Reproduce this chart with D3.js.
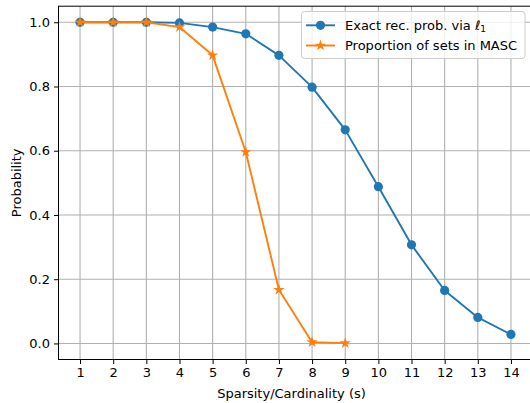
<!DOCTYPE html>
<html><head><meta charset="utf-8">
<script src="https://cdn.jsdelivr.net/npm/d3@7"></script>
<style>body{margin:0;background:#fff}svg{display:block}text{font-family:"DejaVu Sans",sans-serif;fill:#000}</style>
</head><body><svg id="c" width="530" height="403"></svg>
<script>
const sparsity = [1,2,3,4,5,6,7,8,9,10,11,12,13,14];
const exactProb = [1.0,1.0,1.0,0.998,0.985,0.964,0.897,0.798,0.665,0.488,0.307,0.165,0.081,0.028];
const masc = [1.0,1.0,1.0,0.985,0.897,0.596,0.167,0.004,0.001];
const yTicks = [0.0,0.2,0.4,0.6,0.8,1.0];
const xTicks = [1,2,3,4,5,6,7,8,9,10,11,12,13,14];
const seriesNames = ["Exact rec. prob. via ", "Proportion of sets in MASC"];
const colors = ["#1f77b4", "#ff7f0e"];

const svg = d3.select("#c");
const L = 58.5, R = 532.5, T = 6.2, B = 359.5;
const x = d3.scaleLinear().domain([0.35, 14.65]).range([L, R]);
const y = d3.scaleLinear().domain([-0.05, 1.05]).range([B, T]);
const fs = 13;

const g = svg.append("g");
g.selectAll(".gx").data(xTicks).join("line")
  .attr("x1", d => x(d)).attr("x2", d => x(d)).attr("y1", T).attr("y2", B)
  .attr("stroke", "#b0b0b0").attr("stroke-width", 1.1);
g.selectAll(".gy").data(yTicks).join("line")
  .attr("y1", d => y(d)).attr("y2", d => y(d)).attr("x1", L).attr("x2", R)
  .attr("stroke", "#b0b0b0").attr("stroke-width", 1.1);

const xAxis = d3.axisBottom(x).tickValues(xTicks).tickSize(4.5).tickPadding(4).tickFormat(d3.format("d"));
const yAxis = d3.axisLeft(y).tickValues(yTicks).tickSize(4.5).tickPadding(4).tickFormat(d3.format(".1f"));
const gx = svg.append("g").attr("transform", `translate(0,${B})`).call(xAxis);
const gy = svg.append("g").attr("transform", `translate(${L},0)`).call(yAxis);
[gx, gy].forEach(a => {
  a.attr("font-size", null).attr("font-family", null);
  a.select(".domain").remove();
  a.selectAll("line").attr("stroke", "#000").attr("stroke-width", 1);
  a.selectAll("text").attr("font-size", fs).attr("font-family", "DejaVu Sans");
});
svg.append("rect").attr("x", L).attr("y", T).attr("width", R - L).attr("height", B - T)
  .attr("fill", "none").attr("stroke", "#000").attr("stroke-width", 1);

const line = d3.line().x((d, i) => x(sparsity[i])).y(d => y(d));
const star = d3.symbol().type(d3.symbolStar).size(40);
function drawSeries(vals, color, marker) {
  svg.append("path").datum(vals).attr("d", line).attr("fill", "none")
    .attr("stroke", color).attr("stroke-width", 1.9).attr("stroke-linejoin", "round");
  if (marker === "o") {
    svg.selectAll(null).data(vals).join("circle")
      .attr("cx", (d, i) => x(sparsity[i])).attr("cy", d => y(d)).attr("r", 4.6).attr("fill", color);
  } else {
    svg.selectAll(null).data(vals).join("path")
      .attr("d", star).attr("transform", (d, i) => `translate(${x(sparsity[i])},${y(d)})`).attr("fill", color);
  }
}
drawSeries(exactProb, colors[0], "o");
drawSeries(masc, colors[1], "*");

svg.append("text").attr("x", (L + R) / 2 - 4).attr("y", 398).attr("text-anchor", "middle")
  .attr("font-size", fs).text("Sparsity/Cardinality (s)");
svg.append("text").attr("transform", `translate(21,${(T + B) / 2}) rotate(-90)`).attr("text-anchor", "middle")
  .attr("font-size", fs).text("Probability");

const lg = svg.append("g");
lg.append("rect").attr("x", 301.5).attr("y", 11.5).attr("width", 223.5).attr("height", 47).attr("rx", 3)
  .attr("fill", "#fff").attr("fill-opacity", 0.8).attr("stroke", "#cccccc").attr("stroke-width", 1);
const ly = [25.3, 45.5];
[0, 1].forEach(i => {
  lg.append("line").attr("x1", 306).attr("x2", 335).attr("y1", ly[i]).attr("y2", ly[i])
    .attr("stroke", colors[i]).attr("stroke-width", 1.9);
  if (i === 0) lg.append("circle").attr("cx", 320.5).attr("cy", ly[i]).attr("r", 4.6).attr("fill", colors[i]);
  else lg.append("path").attr("d", star).attr("transform", `translate(320.5,${ly[i]})`).attr("fill", colors[i]);
  const t = lg.append("text").attr("x", 345).attr("y", ly[i] + 4.5).attr("font-size", fs).text(seriesNames[i]);
  if (i === 0) {
    t.append("tspan").style("font-style", "italic").text("ℓ");
    t.append("tspan").attr("dy", 2.5).attr("font-size", fs * 0.7).text("1");
  }
});
</script></body></html>
